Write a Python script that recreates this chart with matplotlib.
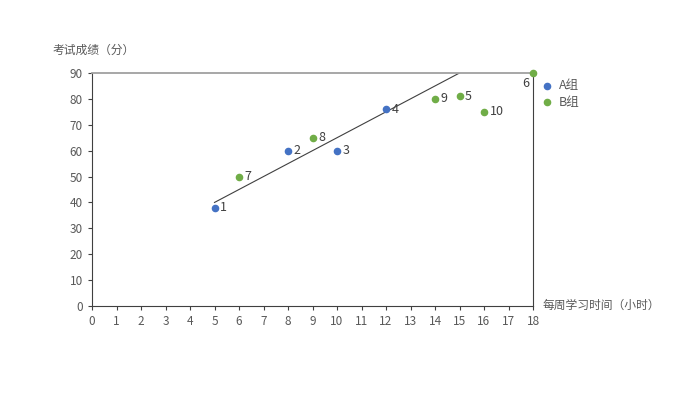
import matplotlib
matplotlib.use("Agg")
import matplotlib.pyplot as plt

plt.rcParams['font.family'] = ['Noto Sans CJK SC', 'DejaVu Sans']

# Data
a_hours = [5, 8, 10, 12]
a_scores = [38, 60, 60, 76]
a_ids = ["1", "2", "3", "4"]
b_hours = [15, 18, 6, 9, 14, 16]
b_scores = [81, 90, 50, 65, 80, 75]
b_ids = ["5", "6", "7", "8", "9", "10"]
trend_x = [5, 15]
trend_y = [40, 90]
x_ticks = list(range(0, 19))
y_ticks = list(range(0, 91, 10))

blue = "#4472C4"
green = "#70AD47"
txt = "#404040"

fig = plt.figure(figsize=(6.8, 3.96), dpi=100)
ax = fig.add_axes([92/680, 1-306/396, (533-92)/680, (306-73)/396])

ax.plot(trend_x, trend_y, color="#404040", lw=0.8, zorder=2, clip_on=True)
ax.scatter(a_hours, a_scores, s=20, color=blue, zorder=3, clip_on=False, label="A组")
ax.scatter(b_hours, b_scores, s=20, color=green, zorder=3, clip_on=False, label="B组")

for x, y, t in zip(a_hours + b_hours, a_scores + b_scores, a_ids + b_ids):
    if t == "6":
        ax.annotate(t, (x, y), xytext=(-3, -3), textcoords="offset points",
                    ha="right", va="top", fontsize=9, color=txt)
    else:
        ax.annotate(t, (x, y), xytext=(4, 0), textcoords="offset points",
                    ha="left", va="center", fontsize=9, color=txt)

ax.set_xlim(0, 18)
ax.set_ylim(0, 90)
ax.set_xticks(x_ticks)
ax.set_yticks(y_ticks)
ax.tick_params(axis="both", labelsize=8.5, colors="#404040", length=3, width=0.8, direction="out")
for lab in ax.get_xticklabels() + ax.get_yticklabels():
    lab.set_color("#595959")

for side in ["left", "bottom", "right"]:
    ax.spines[side].set_color("#404040")
    ax.spines[side].set_linewidth(0.8)
ax.spines["top"].set_color("#a0a0a0")
ax.spines["top"].set_linewidth(1.3)

fig.text(52/680, 1-50/396, "考试成绩（分）", fontsize=8.5, color="#595959", ha="left", va="center")
fig.text(543/680, 1-305/396, "每周学习时间（小时）", fontsize=8.5, color="#595959", ha="left", va="center")

leg = ax.legend(loc="upper left", bbox_to_anchor=(536/680, 1-74/396), bbox_transform=fig.transFigure,
                frameon=False, fontsize=9, handletextpad=0.4, handlelength=1.0,
                borderaxespad=0, labelspacing=0.3, markerscale=1.0)
for t in leg.get_texts():
    t.set_color("#595959")

fig.savefig("out.png", dpi=100)
